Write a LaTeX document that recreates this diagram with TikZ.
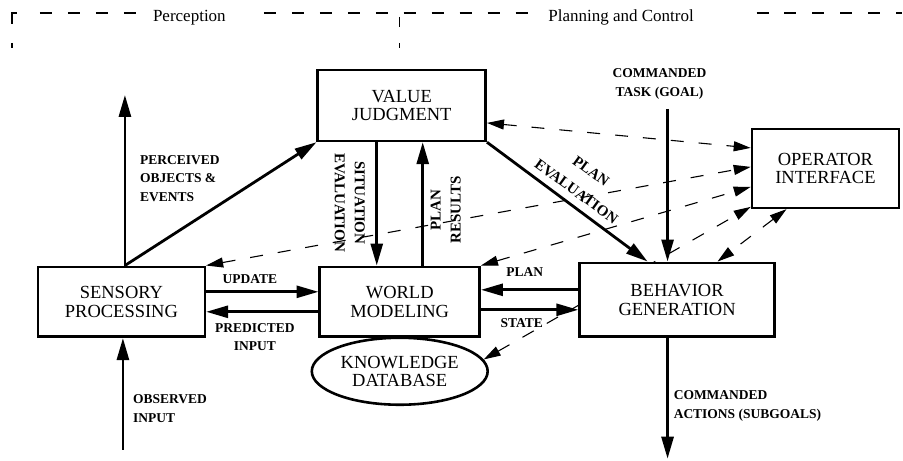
\documentclass[tikz,border=0pt]{standalone}
\usepackage{fontspec}
\setmainfont{Liberation Serif}
\usetikzlibrary{arrows.meta,shapes.geometric}
\pgfdeclarelayer{behind}
\pgfsetlayers{behind,main}
\begin{document}
\begin{tikzpicture}[x=1pt,y=-1pt,
  box/.style={draw,line width=2.6pt,fill=white,inner sep=0pt,align=center,font=\fontsize{18.5}{18.5}\selectfont},
  lbl/.style={font=\bfseries\fontsize{13.5}{18.5}\selectfont,inner sep=0pt},
  rlbl/.style={font=\bfseries\fontsize{15}{20}\selectfont,inner sep=0pt,align=center},
  toplbl/.style={font=\fontsize{17}{17}\selectfont,inner sep=0pt},
  sarrow/.style={line width=2.8pt,-{Triangle[length=22pt,width=12pt]}},
  darrow/.style={line width=1.1pt,dash pattern=on 13pt off 15pt,{Triangle[length=17pt,width=10pt]}-{Triangle[length=17pt,width=10pt]}},
  framedash/.style={line width=1.2pt,dash pattern=on 12pt off 16pt}
]
\begin{pgfonlayer}{behind}
\path[use as bounding box,fill=white] (0,0) rectangle (903,461);
\end{pgfonlayer}
% top frame
\draw[line width=1.2pt] (12,24) -- (12,13) -- (17,13);
\draw[line width=1.2pt] (12,43) -- (12,48);
\draw[line width=1.2pt] (400,17) -- (400,27);
\draw[line width=1.2pt] (400,43) -- (400,48);
\draw[framedash] (40,13) -- (140,13);
\draw[framedash] (264,13) -- (532,13);
\draw[framedash] (757,13) -- (903,13);
\node[toplbl,anchor=base] (tp) at (189.5,22) {Perception};
\node[toplbl,anchor=base] (tpc) at (621.5,22) {Planning and Control};

% coordinates for free ends
\coordinate (pv) at (125,95);
\coordinate (ct) at (668,109);
\coordinate (ca) at (668,459);
\coordinate (ob) at (123,450);

% nodes
\node[box,minimum width=168pt,minimum height=71pt] (VJ) at (402,105.5) {VALUE\\JUDGMENT};
\node[box,minimum width=147pt,minimum height=79pt] (OI) at (826,168.5) {OPERATOR\\INTERFACE};
\node[box,minimum width=167pt,minimum height=70pt] (SP) at (121.5,302) {SENSORY\\PROCESSING};
\node[box,minimum width=160pt,minimum height=70pt] (WM) at (400,302) {WORLD\\MODELING};
\node[box,ellipse,minimum width=176pt,minimum height=67pt] (KD) at (400,371.5) {KNOWLEDGE\\DATABASE};
\node[box,minimum width=195pt,minimum height=74pt] (BG) at (677.5,300) {BEHAVIOR\\GENERATION};

% dashed connectors, behind the boxes
\begin{pgfonlayer}{behind}
\draw[darrow] (VJ.east |- 0,123) -- (OI.west |- 0,148);
\draw[darrow] (SP.north east) -- (OI.west |- 0,167);
\draw[darrow] (WM.north east) -- (OI.west |- 0,187);
\draw[darrow] (KD.8) -- (OI.west |- 0,207);
\draw[darrow] (OI.south -| 787,0) -- (BG.north -| 718,0);
\end{pgfonlayer}

% solid connectors
\draw[sarrow] (SP.north -| pv) -- (pv);
\draw[sarrow] (SP.north -| pv) -- (VJ.south west);
\draw[sarrow] (VJ.south -| 377,0) -- (WM.north -| 377,0);
\draw[sarrow] (WM.north -| 423,0) -- (VJ.south -| 423,0);
\draw[sarrow] (VJ.south east) -- (BG.north -| 648,0);
\draw[sarrow] (ct) -- (BG.north -| ct);
\draw[sarrow] (BG.south -| ca) -- (ca);
\draw[sarrow] (ob) -- (SP.south -| ob);
\draw[sarrow] (SP.east |- 0,292) -- (WM.west |- 0,292);
\draw[sarrow] (WM.west |- 0,312) -- (SP.east |- 0,312);
\draw[sarrow] (BG.west |- 0,290) -- (WM.east |- 0,290);
\draw[sarrow] (WM.east |- 0,310) -- (BG.west |- 0,310);

% labels
\node[lbl,align=left,anchor=west] (lpo) at (140,178.5) {PERCEIVED\\OBJECTS \&\\EVENTS};
\node[lbl] (lup) at (250,279) {UPDATE};
\node[lbl,align=center] (lpi) at (255,337.5) {PREDICTED\\INPUT};
\node[lbl] (lpl) at (525,272) {PLAN};
\node[lbl] (lst) at (522,323) {STATE};
\node[lbl,align=left,anchor=west] (lob) at (133,409) {OBSERVED\\INPUT};
\node[lbl,align=left,anchor=west] (lca) at (674,406) {COMMANDED\\ACTIONS (SUBGOALS)};
\node[lbl,align=center] (lct) at (660,84) {COMMANDED\\TASK (GOAL)};
\node[rlbl,rotate=-90] (lse) at (350,203) {SITUATION\\EVALUATION};
\node[rlbl,rotate=90] (lpr) at (446,210) {PLAN\\RESULTS};
\node[rlbl,rotate=-36,font=\bfseries\fontsize{15}{25}\selectfont] (lpe) at (584,181.5) {PLAN\\EVALUATION};
\end{tikzpicture}
\end{document}
